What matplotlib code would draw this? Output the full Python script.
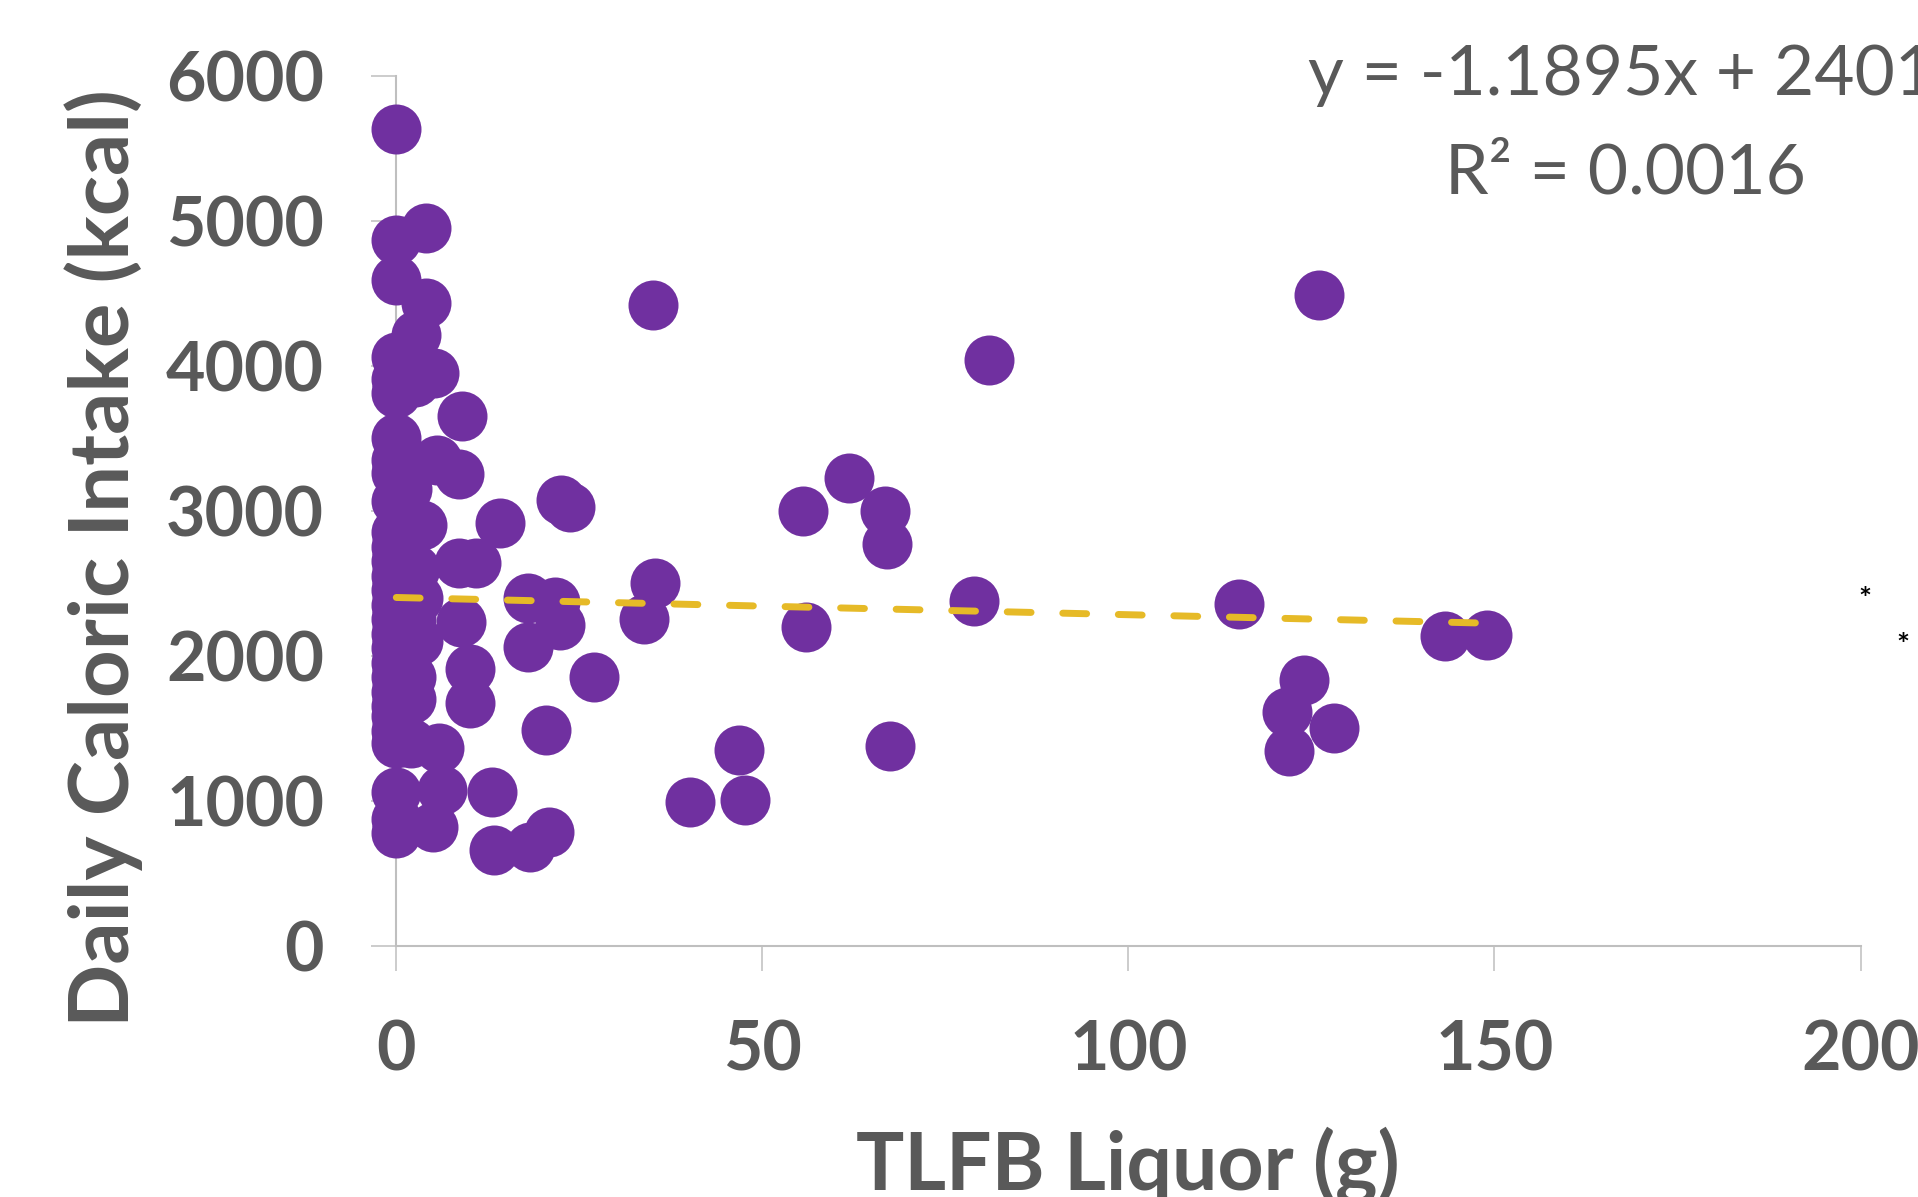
import matplotlib
matplotlib.use("Agg")
import matplotlib.pyplot as plt
import numpy as np

# ---- data ----
liquor_g = [
    # x = 0 column
    0, 0, 0, 0, 0, 0, 0, 0, 0, 0, 0, 0, 0, 0, 0, 0, 0, 0, 0, 0, 0, 0, 0, 0, 0, 0, 0, 0, 0,
    # near-zero cluster
    4.0, 4.0, 2.7, 5.1, 2.6, 9.0, 5.6, 8.6, 3.5, 1.5, 14.1, 10.9, 8.6, 2.5, 3.0, 2.0,
    8.8, 3.0, 10.0, 2.0, 10.0, 2.0, 5.9, 2.0, 6.3, 5.0, 13.1, 13.4, 18.2, 20.9,
    # remaining points
    18.0, 21.7, 22.3, 18.0, 27.0, 20.5, 22.5, 23.7, 35.1, 35.3, 33.9, 40.1, 46.8, 47.6,
    55.5, 56.0, 61.8, 66.8, 67.0, 67.5, 78.9, 81.0, 115.1, 126.0, 124.0, 121.6, 122.0,
    128.1, 143.2, 149.0,
]
calories_kcal = [
    5630, 4870, 4590, 4060, 3910, 3810, 3500, 3350, 3260, 3070, 2850, 2750, 2650, 2550,
    2450, 2350, 2250, 2150, 2050, 1950, 1850, 1750, 1650, 1580, 1480, 1400, 1060, 870, 775,
    4950, 4430, 4210, 3950, 3890, 3655, 3350, 3250, 2900, 3150, 2915, 2637, 2640, 2600,
    2400, 2250, 2230, 2100, 1910, 1850, 1670, 1700, 1360, 1400, 1070, 820, 1060, 660,
    680, 785,
    2400, 2370, 2211, 2061, 1855, 1485, 3073, 3027, 4422, 2498, 2253, 987, 1350, 1004,
    2996, 2194, 3224, 2996, 2768, 1376, 2380, 4042, 2354, 4490, 1831, 1612, 1342,
    1502, 2135, 2144,
]
trend_slope = -1.1895
trend_intercept = 2401
trend_text = ["y = -1.1895x + 2401", "R\u00b2 = 0.0016"]
x_ticks = [0, 50, 100, 150, 200]
y_ticks = [0, 1000, 2000, 3000, 4000, 5000, 6000]
x_label = "TLFB Liquor (g)"
y_label = "Daily Caloric Intake (kcal)"

# ---- style ----
W, H = 1918, 1197
PURPLE = "#7030A0"
GOLD = "#E6BA27"
TXT = "#595959"
AXC = "#BFBFBF"
FONT = ["Lato", "DejaVu Sans"]
plt.rcParams["font.family"] = FONT

fig = plt.figure(figsize=(W / 100, H / 100), dpi=100, facecolor="white")
ax = fig.add_axes([396.3 / W, (H - 945.5) / H, 1464.2 / W, 869.7 / H])
ax.set_facecolor("none")

ax.scatter(liquor_g, calories_kcal, s=1296, color=PURPLE, linewidths=0,
           clip_on=False, zorder=3)

xt = np.array([min(liquor_g), max(liquor_g)])
ax.plot(xt, trend_slope * xt + trend_intercept, color=GOLD, lw=5.0,
        linestyle=(0, (3.43, 4.57)), dash_capstyle="round", solid_capstyle="round",
        clip_on=False, zorder=4)

ax.set_xlim(0, 200)
ax.set_ylim(0, 6000)
ax.set_xticks(x_ticks)
ax.set_yticks(y_ticks)
ax.set_xticklabels([str(v) for v in x_ticks])
ax.set_yticklabels([str(v) for v in y_ticks])

for s in ["top", "right"]:
    ax.spines[s].set_visible(False)
for s in ["left", "bottom"]:
    ax.spines[s].set_color(AXC)
    ax.spines[s].set_linewidth(1.5)
    ax.spines[s].set_zorder(1)

ax.tick_params(axis="both", direction="out", length=18, width=1.1, color=AXC,
               labelcolor=TXT, labelsize=49)
ax.tick_params(axis="y", pad=34)
ax.tick_params(axis="x", pad=35)
for lab in ax.get_xticklabels() + ax.get_yticklabels():
    lab.set_fontweight("bold")

ax.set_xlabel(x_label, fontsize=58, fontweight="bold", color=TXT)
ax.xaxis.label.set_va("baseline")
ax.xaxis.set_label_coords(0.4997, (945.5 - 1189) / 869.7)
ax.set_ylabel(y_label, fontsize=60, fontweight="bold", color=TXT)
ax.yaxis.label.set_va("center")
ax.yaxis.set_label_coords((104 - 396.3) / 1464.2, (945.5 - 558.4) / 869.7)

# trendline label (two lines, clipped at the right edge as in the reference)
fig.text(1308 / W, 1 - 95 / H, trend_text[0], fontsize=50, color=TXT,
         ha="left", va="baseline")
fig.text(1625 / W, 1 - 193 / H, trend_text[1], fontsize=50, color=TXT,
         ha="center", va="baseline")

# stray asterisks at the right
fig.text(1865 / W, 1 - 600 / H, "*", fontsize=22, color="black", fontweight="bold",
         ha="center", va="center")
fig.text(1903 / W, 1 - 646 / H, "*", fontsize=22, color="black", fontweight="bold",
         ha="center", va="center")

fig.savefig("out.png", dpi=100, facecolor="white")
